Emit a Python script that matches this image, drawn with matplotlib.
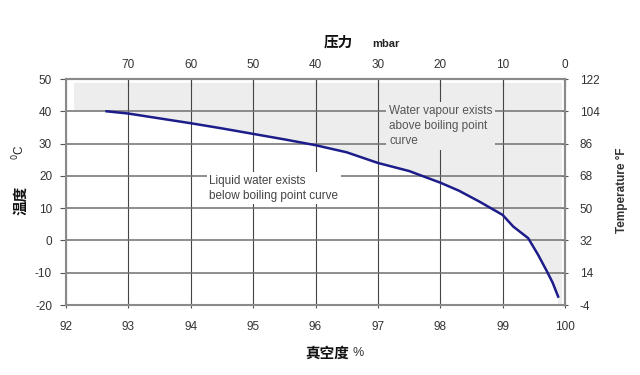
import numpy as np
import matplotlib
matplotlib.use("Agg")
import matplotlib.pyplot as plt

plt.rcParams['font.family'] = ['Liberation Sans', 'Noto Sans CJK SC', 'DejaVu Sans']
plt.rcParams['axes.unicode_minus'] = False

# --- data ---
vacuum_pct = [92.65, 93.0, 93.5, 94.0, 94.5, 95.0, 95.5, 96.0, 96.5, 97.0, 97.5,
              98.0, 98.3, 98.63, 99.0, 99.17, 99.41, 99.57, 99.70, 99.80, 99.89]
temp_c = [40.0, 39.3, 37.8, 36.3, 34.7, 33.0, 31.3, 29.5, 27.3, 24.0, 21.5,
          17.9, 15.4, 12.0, 7.9, 4.3, 0.7, -4.5, -9.2, -13.0, -17.4]
x_ticks = [92, 93, 94, 95, 96, 97, 98, 99, 100]
y_ticks = [-20, -10, 0, 10, 20, 30, 40, 50]
mbar_ticks = [70, 60, 50, 40, 30, 20, 10, 0]
f_ticks = [-4, 14, 32, 50, 68, 86, 104, 122]

tick_color = '#333333'
shade_color = '#ededed'
fig = plt.figure(figsize=(6.4, 3.75), dpi=100)
ax = fig.add_axes([66/640, 1-305/375, (565-66)/640, (305-79)/375])
ax.set_xlim(92, 100)
ax.set_ylim(-20, 50)

# shaded vapour region
shade_left, shade_right, shade_top = 92.13, 99.95, 48.8
sx = np.concatenate([[shade_left], vacuum_pct, [vacuum_pct[-1], shade_right, shade_right, shade_left]])
sy = np.concatenate([[temp_c[0]], temp_c, [-20, -20, shade_top, shade_top]])
ax.fill(sx, sy, color=shade_color, zorder=0, lw=0)

ax.set_xticks(x_ticks)
ax.set_yticks(y_ticks)
ax.grid(True, axis='y', color='#6f6f6f', lw=1.1, zorder=1)
ax.grid(True, axis='x', color='#444444', lw=0.8, zorder=1)
ax.set_axisbelow(True)

ax.plot(vacuum_pct, temp_c, color='#1c1c8a', lw=1.8, zorder=3)

for s in ax.spines.values():
    s.set_color('#8a8a8a')
    s.set_linewidth(1.5)

ax.tick_params(axis='both', labelsize=8.5, colors='#555555', labelcolor=tick_color,
               direction='inout', length=5)
ax.tick_params(axis='x', pad=9)
ax.tick_params(axis='y', direction='out', length=4, pad=6)

# top axis: pressure in mbar
top = ax.secondary_xaxis('top', functions=(lambda v: (100 - v) * 10, lambda p: 100 - p / 10))
top.set_xticks(mbar_ticks)
top.tick_params(labelsize=8.5, colors='#555555', labelcolor=tick_color, direction='in', length=5, pad=6)
top.spines['top'].set_color('#8a8a8a')
top.spines['top'].set_linewidth(1.5)

# right axis: Fahrenheit
right = ax.secondary_yaxis('right', functions=(lambda c: c * 1.8 + 32, lambda f: (f - 32) / 1.8))
right.set_yticks(f_ticks)
right.tick_params(labelsize=8.5, colors='#555555', labelcolor=tick_color, direction='inout', length=5, pad=8)
right.spines['right'].set_color('#8a8a8a')
right.spines['right'].set_linewidth(1.5)

# axis titles
fig.text(338/640, 1-42/375, '压力', family=['Noto Sans CJK SC'], fontweight='bold',
         fontsize=10.5, ha='center', va='center', color='#111111')
fig.text(386/640, 1-44/375, 'mbar', fontweight='bold', fontsize=8,
         ha='center', va='center', color='#222222')
fig.text(327/640, 1-353/375, '真空度', family=['Noto Sans CJK SC'], fontweight='bold',
         fontsize=10.5, ha='center', va='center', color='#111111')
fig.text(358/640, 1-353/375, '%', fontsize=9, ha='center', va='center', color='#333333')
fig.text(20/640, 1-200/375, '温度', family=['Noto Sans CJK SC'], fontweight='bold',
         fontsize=10.5, ha='center', va='center', rotation=90, color='#111111')
fig.text(19/640, 1-152/375, r'$^{0}$C', fontsize=8.5, ha='center', va='center',
         rotation=90, color='#222222')
fig.text(622/640, 1-190/375, 'Temperature °F', fontweight='bold', fontsize=8.5,
         ha='center', va='center', rotation=90, color='#333333')

# annotations
ax.text(94.3, 20.3, 'Liquid water exists\nbelow boiling point curve', fontsize=8.5,
        color='#444444', ha='left', va='top', linespacing=1.3, zorder=4,
        bbox=dict(facecolor='white', edgecolor='none', pad=2))
ax.text(97.18, 42.0, 'Water vapour exists\nabove boiling point\ncurve', fontsize=8.5,
        color='#555555', ha='left', va='top', linespacing=1.35, zorder=4,
        bbox=dict(facecolor=shade_color, edgecolor='none', pad=2))

fig.savefig('out.png', dpi=100, facecolor='white')
